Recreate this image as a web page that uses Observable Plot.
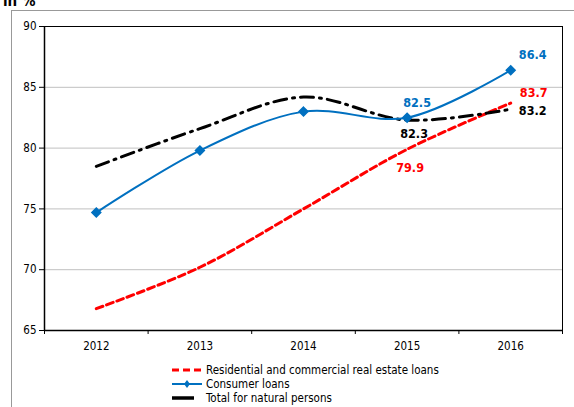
<!DOCTYPE html>
<html>
<head>
<meta charset="utf-8">
<script src="https://cdn.jsdelivr.net/npm/d3@7"></script>
<script src="https://cdn.jsdelivr.net/npm/@observablehq/plot@0.6"></script>
<style>
  html, body { margin: 0; padding: 0; background: #fff; overflow: hidden; }
  #wrap { position: relative; width: 574px; height: 407px; overflow: hidden; font-family: "DejaVu Sans Condensed", "DejaVu Sans", sans-serif; }
  #frame { position: absolute; left: 11px; top: 10px; width: 600px; height: 500px; border-left: 1px solid #999; border-top: 1px solid #999; box-sizing: border-box; }
  #unit { position: absolute; left: 3px; top: -8px; font-weight: bold; font-size: 15px; color: #000; }
  #chart { position: absolute; left: 0; top: 0; }
  #legend { position: absolute; left: 172px; top: 363px; font-size: 11.5px; color: #000; }
  .item { display: flex; align-items: center; height: 14px; }
  .item svg { margin-right: 4px; }
</style>
</head>
<body>
<div id="wrap">
  <div id="frame"></div>
  <div id="unit">in %</div>
  <div id="chart"></div>
  <div id="legend"></div>
</div>
<script>
const years = [2012, 2013, 2014, 2015, 2016];
const residential = [66.8, 70.2, 75.0, 79.9, 83.7];
const consumer = [74.7, 79.8, 83.0, 82.5, 86.4];
const total = [78.5, 81.6, 84.2, 82.3, 83.2];
const seriesNames = ["Residential and commercial real estate loans", "Consumer loans", "Total for natural persons"];
const yTicks = [65, 70, 75, 80, 85, 90];
const labelSeries = ["Consumer loans", "Residential and commercial real estate loans", "Total for natural persons", "Consumer loans", "Total for natural persons", "Residential and commercial real estate loans"];
const labelYears = [2016, 2016, 2016, 2015, 2015, 2015];
const labelValues = [86.4, 83.7, 83.2, 82.5, 82.3, 79.9];

const colors = {
  "Residential and commercial real estate loans": "#ff0000",
  "Consumer loans": "#0070c0",
  "Total for natural persons": "#000000"
};
const rows = (vals, s) => years.map((y, i) => ({year: y, value: vals[i], series: s}));
const resRows = rows(residential, seriesNames[0]);
const conRows = rows(consumer, seriesNames[1]);
const totRows = rows(total, seriesNames[2]);
const labels = labelSeries.map((s, i) => ({series: s, year: labelYears[i], value: labelValues[i]}));
const offsets = [[22, -15], [23, -10], [22, 2], [10, -15], [7, 14], [3, 19]];

const font = '"DejaVu Sans Condensed", "DejaVu Sans", sans-serif';
const boundaries = d3.range(years[0] - 0.5, years[years.length - 1] + 1, 1);

const marks = [
  Plot.ruleY(yTicks.filter(t => t > 65 && t < 90), {stroke: "#c0c0c0", strokeWidth: 1}),
  Plot.frame({stroke: "#000", strokeWidth: 1}),
  Plot.axisY({ticks: yTicks, tickSize: 5, tickPadding: 3, fontSize: 11.5, color: "#000", label: null}),
  Plot.ruleX([years[0] - 0.5], {stroke: "#000", strokeWidth: 1.5}),
  Plot.axisX({ticks: boundaries, tickSize: 4, tickFormat: () => "", label: null, stroke: "#000"}),
  Plot.axisX({ticks: years, tickSize: 0, tickPadding: 11, tickFormat: d => String(d), fontSize: 11.5, color: "#000", label: null}),
  Plot.ruleY([65], {stroke: "#000", strokeWidth: 1.5}),
  Plot.line(resRows, {x: "year", y: "value", stroke: colors[seriesNames[0]], strokeWidth: 3, strokeDasharray: "7,4", curve: "catmull-rom"}),
  Plot.line(totRows, {x: "year", y: "value", stroke: colors[seriesNames[2]], strokeWidth: 3, strokeDasharray: "13,6,2,6", curve: "catmull-rom"}),
  Plot.line(conRows, {x: "year", y: "value", stroke: colors[seriesNames[1]], strokeWidth: 2, curve: "catmull-rom"}),
  Plot.dot(conRows, {x: "year", y: "value", symbol: "diamond2", r: 4, fill: colors[seriesNames[1]], stroke: colors[seriesNames[1]]})
];
labels.forEach((d, i) => {
  marks.push(Plot.text([d], {x: "year", y: "value", text: dd => dd.value.toFixed(1), fill: colors[d.series], fontWeight: "bold", fontSize: 12.5, dx: offsets[i][0], dy: offsets[i][1]}));
});

const chart = Plot.plot({
  width: 574,
  height: 407,
  marginLeft: 44,
  marginRight: 12,
  marginTop: 26,
  marginBottom: 77,
  style: {fontFamily: font, background: "transparent", overflow: "visible"},
  x: {domain: [years[0] - 0.5, years[years.length - 1] + 0.5], axis: null},
  y: {domain: [65, 90], axis: null},
  marks
});
document.getElementById("chart").appendChild(chart);

// legend
const legend = d3.select("#legend");
const items = [
  {name: seriesNames[0], type: "dash"},
  {name: seriesNames[1], type: "marker"},
  {name: seriesNames[2], type: "solid"}
];
items.forEach(it => {
  const row = legend.append("div").attr("class", "item");
  const svg = row.append("svg").attr("width", 30).attr("height", 14);
  const c = colors[it.name];
  if (it.type === "dash") {
    svg.append("line").attr("x1", 0).attr("x2", 30).attr("y1", 7).attr("y2", 7).attr("stroke", c).attr("stroke-width", 3).attr("stroke-dasharray", "7,4");
  } else if (it.type === "marker") {
    svg.append("line").attr("x1", 0).attr("x2", 30).attr("y1", 7).attr("y2", 7).attr("stroke", c).attr("stroke-width", 2);
    svg.append("path").attr("d", "M15,3L18,7L15,11L12,7Z").attr("fill", c);
  } else {
    svg.append("line").attr("x1", 0).attr("x2", 22).attr("y1", 7).attr("y2", 7).attr("stroke", c).attr("stroke-width", 3.5);
  }
  row.append("span").text(it.name);
});
</script>
</body>
</html>
